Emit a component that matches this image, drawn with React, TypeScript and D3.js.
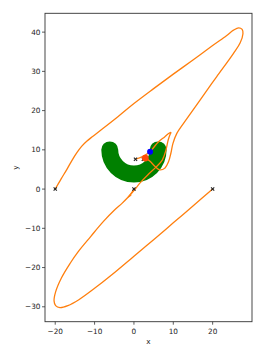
import * as d3 from 'd3';

// trajectory of the body that starts at (-20, 0)
const pathA: [number, number][] = [
  [-20, 0], [-18.5, 2.6], [-17, 5.1], [-15.7, 7.4], [-14.5, 9.3], [-13.3, 10.9], [-12, 12.2],
  [-10.5, 13.4], [-8.7, 14.8], [-4, 18.5], [0, 21.8], [5, 25.6], [10, 29.3], [15, 32.9], [20, 36.6], [23.5, 39.1],
  [25.3, 40.5], [26.6, 41.1], [27.5, 40.7], [27.7, 39.6], [27, 37.3], [25.3, 34.6], [21, 28.6],
  [16.8, 22.7], [13.5, 18], [10.9, 14.2], [9.9, 11.6], [9.4, 9.2], [8.8, 7], [7.9, 5.4],
  [6.6, 4.9], [5.3, 5.8], [4.1, 7.1], [2.9, 7.9],
];

// trajectory of the body that starts at (20, 0)
const pathB: [number, number][] = [
  [20, 0], [15, -4.3], [10, -8.6], [5, -12.9], [0, -17.1], [-5.7, -21.9], [-10, -25.3],
  [-14, -28.2], [-16.8, -29.7], [-18.8, -30.2], [-19.9, -29.7], [-20.3, -28.5], [-19.9, -26.2],
  [-18.4, -22.6], [-16.2, -18.9], [-14.2, -16], [-11, -12.1], [-7.8, -8.3], [-5, -5.4],
  [-3.1, -3.7], [-1.5, -2.1], [0, -0.4], [1.5, 1.5], [3.5, 3.6], [5.6, 5.6], [7.2, 7.4],
  [8.1, 9.8], [8.7, 12.5], [9.2, 14], [9.4, 14.4], [9, 14.3], [7.8, 13.3], [6.2, 12],
  [5, 10.6], [4.1, 9.5], [2.4, 8.4], [0.4, 7.6],
];

// short trajectory of the body that starts at (0, 0)
const pathC: [number, number][] = [
  [0, 0], [-0.7, -1.1], [-1.5, -2.1], [-0.8, -1.6],
];

const startMarks: [number, number][] = [[-20, 0], [20, 0], [0, 0], [0.4, 7.6], [2.4, 7.6]];
const blueDot: [number, number] = [4.1, 9.5];
const redDot: [number, number] = [2.9, 7.9];
const arcCenter: [number, number] = [0, 10];
const arcRadius = 6.15;
const arcThickness = 4.3;

const xTicks = [-20, -10, 0, 10, 20];
const yTicks = [-30, -20, -10, 0, 10, 20, 30, 40];

const W = 266;
const H = 353;
const margin = { top: 13.3, right: 14, bottom: 31.3, left: 45 };

export default function App() {
  const x = d3.scaleLinear().domain([-22.6, 30.0]).range([margin.left, W - margin.right]);
  const y = d3.scaleLinear().domain([-33.8, 44.8]).range([H - margin.bottom, margin.top]);

  const line = d3.line<[number, number]>()
    .x(d => x(d[0]))
    .y(d => y(d[1]))
    .curve(d3.curveCatmullRom.alpha(0.5));

  // lower half of a circle, drawn as a thick stroke with round caps
  const cx = x(arcCenter[0]);
  const cy = y(arcCenter[1]);
  const r = x(arcRadius) - x(0);
  const arcPath = d3.path();
  arcPath.moveTo(cx - r, cy);
  arcPath.arc(cx, cy, r, Math.PI, 0, true);
  const arcWidth = x(arcThickness) - x(0);

  const font = 'DejaVu Sans, sans-serif';
  const x0 = margin.left;
  const x1 = W - margin.right;
  const y0 = H - margin.bottom;
  const y1 = margin.top;

  return (
    <div style={{ position: 'fixed', left: 0, top: 0 }}>
      <svg width={W} height={H} style={{ display: 'block', background: '#fff' }}>
        <defs>
          <clipPath id="plot">
            <rect x={x0} y={y1} width={x1 - x0} height={y0 - y1} />
          </clipPath>
        </defs>
        <g clipPath="url(#plot)">
          <path d={arcPath.toString()} fill="none" stroke="#008000" strokeWidth={arcWidth} strokeLinecap="round" />
          {[pathA, pathB, pathC].map((p, i) => (
            <path key={i} d={line(p) || ''} fill="none" stroke="#ff7f0e" strokeWidth={1.3}
              strokeLinejoin="round" strokeLinecap="round" />
          ))}
          {startMarks.map((m, i) => (
            <g key={i} transform={`translate(${x(m[0])},${y(m[1])})`} stroke="#222" strokeWidth={1.1}>
              <line x1={-1.6} y1={-1.6} x2={1.6} y2={1.6} />
              <line x1={-1.6} y1={1.6} x2={1.6} y2={-1.6} />
            </g>
          ))}
          <circle cx={x(redDot[0])} cy={y(redDot[1])} r={3.4} fill="#ff4a0a" />
          <circle cx={x(blueDot[0])} cy={y(blueDot[1])} r={3} fill="#0000ff" />
        </g>

        {/* spines */}
        <rect x={x0} y={y1} width={x1 - x0} height={y0 - y1} fill="none" stroke="#333" strokeWidth={0.9} />

        {/* x axis */}
        {xTicks.map(t => (
          <g key={t} transform={`translate(${x(t)},${y0})`}>
            <line y2={3} stroke="#333" strokeWidth={0.8} />
            <text y={12} textAnchor="middle" fontFamily={font} fontSize={7.3} fill="#222">
              {t < 0 ? `\u2212${-t}` : t}
            </text>
          </g>
        ))}
        {/* y axis */}
        {yTicks.map(t => (
          <g key={t} transform={`translate(${x0},${y(t)})`}>
            <line x2={-3} stroke="#333" strokeWidth={0.8} />
            <text x={-4.5} dy="0.35em" textAnchor="end" fontFamily={font} fontSize={7.3} fill="#222">
              {t < 0 ? `\u2212${-t}` : t}
            </text>
          </g>
        ))}
        <text x={(x0 + x1) / 2} y={344} textAnchor="middle" fontFamily={font} fontSize={7.3} fill="#222">x</text>
        <text transform={`translate(17.5,${(y0 + y1) / 2}) rotate(-90)`} textAnchor="middle"
          fontFamily={font} fontSize={7.3} fill="#222">y</text>
      </svg>
    </div>
  );
}
